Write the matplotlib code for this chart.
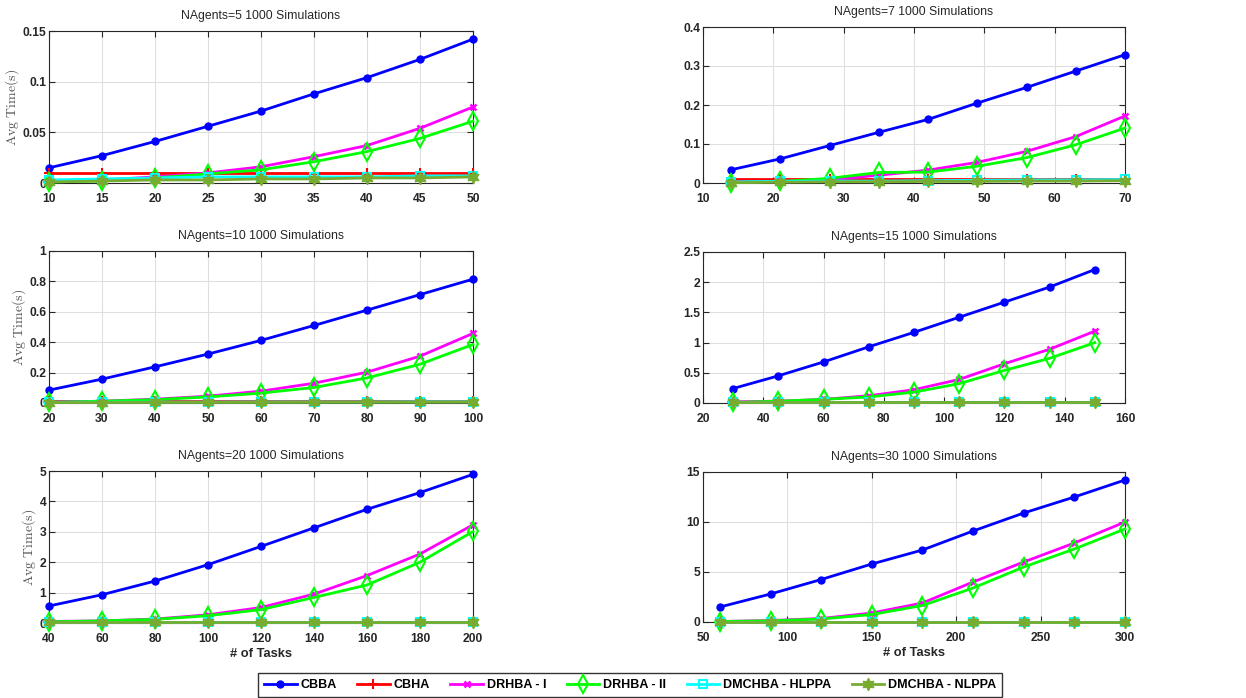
import matplotlib
matplotlib.use("Agg")
import matplotlib.pyplot as plt
from matplotlib import font_manager

plt.rcParams['font.family'] = ['Liberation Sans', 'DejaVu Sans']
plt.rcParams['mathtext.fontset'] = 'cm'

installed = {f.name for f in font_manager.fontManager.ttflist}
legend_family = ['Liberation Sans Narrow', 'Liberation Sans'] if 'Liberation Sans Narrow' in installed else ['Liberation Sans']

series_names = ["CBBA", "CBHA", "DRHBA - I", "DRHBA - II", "DMCHBA - HLPPA", "DMCHBA - NLPPA"]

agents = [5, 7, 10, 15, 20, 30]

tasks = {
    5: [10, 15, 20, 25, 30, 35, 40, 45, 50],
    7: [14, 21, 28, 35, 42, 49, 56, 63, 70],
    10: [20, 30, 40, 50, 60, 70, 80, 90, 100],
    15: [30, 45, 60, 75, 90, 105, 120, 135, 150],
    20: [40, 60, 80, 100, 120, 140, 160, 180, 200],
    30: [60, 90, 120, 150, 180, 210, 240, 270, 300],
}

cbba = {
    5: [0.015, 0.027, 0.041, 0.056, 0.071, 0.088, 0.104, 0.122, 0.142],
    7: [0.034, 0.062, 0.096, 0.130, 0.163, 0.205, 0.245, 0.287, 0.329],
    10: [0.085, 0.157, 0.238, 0.322, 0.412, 0.510, 0.611, 0.713, 0.815],
    15: [0.24, 0.45, 0.68, 0.93, 1.17, 1.42, 1.67, 1.92, 2.21],
    20: [0.56, 0.93, 1.38, 1.92, 2.52, 3.13, 3.74, 4.29, 4.89],
    30: [1.5, 2.8, 4.25, 5.8, 7.2, 9.1, 10.9, 12.5, 14.2],
}
cbha = {
    5: [0.0095, 0.0095, 0.0095, 0.0095, 0.0095, 0.0095, 0.0095, 0.0095, 0.0095],
    7: [0.009, 0.009, 0.009, 0.009, 0.009, 0.009, 0.009, 0.009, 0.009],
    10: [0.010, 0.010, 0.010, 0.010, 0.010, 0.010, 0.010, 0.010, 0.010],
    15: [0.02, 0.02, 0.02, 0.02, 0.02, 0.02, 0.02, 0.02, 0.02],
    20: [0.04, 0.04, 0.04, 0.04, 0.04, 0.04, 0.04, 0.04, 0.04],
    30: [0.04, 0.04, 0.04, 0.04, 0.04, 0.04, 0.04, 0.04, 0.04],
}
drhba1 = {
    5: [0.002, 0.003, 0.006, 0.010, 0.016, 0.026, 0.037, 0.054, 0.075],
    7: [0.002, 0.004, 0.008, 0.020, 0.033, 0.053, 0.081, 0.119, 0.172],
    10: [0.005, 0.012, 0.025, 0.045, 0.078, 0.130, 0.203, 0.308, 0.458],
    15: [0.02, 0.03, 0.06, 0.12, 0.22, 0.39, 0.65, 0.89, 1.19],
    20: [0.05, 0.07, 0.13, 0.27, 0.51, 0.95, 1.56, 2.27, 3.23],
    30: [0.05, 0.15, 0.35, 0.9, 1.9, 4.0, 6.0, 7.9, 10.0],
}
drhba2 = {
    5: [0.001, 0.002, 0.005, 0.009, 0.013, 0.021, 0.031, 0.044, 0.061],
    7: [0.001, 0.004, 0.012, 0.027, 0.028, 0.043, 0.065, 0.098, 0.141],
    10: [0.004, 0.012, 0.022, 0.040, 0.065, 0.102, 0.165, 0.255, 0.385],
    15: [0.01, 0.03, 0.06, 0.10, 0.18, 0.32, 0.54, 0.74, 1.00],
    20: [0.04, 0.07, 0.12, 0.24, 0.44, 0.84, 1.25, 2.00, 3.01],
    30: [0.05, 0.12, 0.30, 0.75, 1.65, 3.4, 5.5, 7.3, 9.3],
}
hlppa = {
    5: [0.003, 0.004, 0.005, 0.006, 0.006, 0.006, 0.006, 0.007, 0.007],
    7: [0.003, 0.004, 0.005, 0.005, 0.006, 0.007, 0.008, 0.008, 0.009],
    10: [0.005, 0.005, 0.006, 0.006, 0.007, 0.007, 0.007, 0.008, 0.008],
    15: [0.02, 0.02, 0.02, 0.02, 0.02, 0.02, 0.02, 0.02, 0.02],
    20: [0.04, 0.04, 0.04, 0.04, 0.04, 0.04, 0.04, 0.04, 0.04],
    30: [0.04, 0.04, 0.04, 0.04, 0.04, 0.04, 0.04, 0.04, 0.04],
}
nlppa = {
    5: [0.001, 0.002, 0.003, 0.003, 0.004, 0.004, 0.005, 0.005, 0.006],
    7: [0.001, 0.002, 0.003, 0.003, 0.004, 0.004, 0.005, 0.005, 0.006],
    10: [0.003, 0.003, 0.004, 0.004, 0.004, 0.005, 0.005, 0.005, 0.006],
    15: [0.01, 0.01, 0.01, 0.01, 0.01, 0.01, 0.01, 0.01, 0.01],
    20: [0.03, 0.03, 0.03, 0.03, 0.03, 0.03, 0.03, 0.03, 0.03],
    30: [0.03, 0.03, 0.03, 0.03, 0.03, 0.03, 0.03, 0.03, 0.03],
}

xlims = {5: (10, 50), 7: (10, 70), 10: (20, 100), 15: (20, 160), 20: (40, 200), 30: (50, 300)}
xticks = {5: [10, 15, 20, 25, 30, 35, 40, 45, 50],
          7: [10, 20, 30, 40, 50, 60, 70],
          10: [20, 30, 40, 50, 60, 70, 80, 90, 100],
          15: [20, 40, 60, 80, 100, 120, 140, 160],
          20: [40, 60, 80, 100, 120, 140, 160, 180, 200],
          30: [50, 100, 150, 200, 250, 300]}
ylims = {5: (0, 0.15), 7: (0, 0.4), 10: (0, 1), 15: (0, 2.5), 20: (0, 5), 30: (0, 15)}
yticks = {5: [0, 0.05, 0.1, 0.15], 7: [0, 0.1, 0.2, 0.3, 0.4],
          10: [0, 0.2, 0.4, 0.6, 0.8, 1], 15: [0, 0.5, 1, 1.5, 2, 2.5],
          20: [0, 1, 2, 3, 4, 5], 30: [0, 5, 10, 15]}
yticklabels = {5: ["0", "0.05", "0.1", "0.15"], 7: ["0", "0.1", "0.2", "0.3", "0.4"],
               10: ["0", "0.2", "0.4", "0.6", "0.8", "1"], 15: ["0", "0.5", "1", "1.5", "2", "2.5"],
               20: ["0", "1", "2", "3", "4", "5"], 30: ["0", "5", "10", "15"]}

W, H = 1246, 698
fig = plt.figure(figsize=(W / 100, H / 100), dpi=100)

# axes rectangles in pixels: left, top, right, bottom
rects = {
    5: (49, 31, 473, 183),
    7: (703, 27, 1125, 183),
    10: (49, 251, 473, 403),
    15: (703, 252, 1125, 403),
    20: (49, 471, 473, 623),
    30: (703, 472, 1125, 622),
}

styles = [
    dict(color='#0000FF', marker='o', ms=5, mfc='#0000FF', mec='#0000FF'),
    dict(color='#FF0000', marker='+', ms=7, mew=1.5),
    dict(color='#FF00FF', marker='x', ms=5, mew=1.8),
    dict(color='#00FF00', marker='d', ms=9, mfc='none', mew=1.5),
    dict(color='#00FFFF', marker='s', ms=6, mfc='none', mew=1.5),
    dict(color='#77AC30', marker=(6, 1, 0), ms=9, mfc='#77AC30', mec='#77AC30'),
]

handles = None
for n in agents:
    l, t, r, b = rects[n]
    ax = fig.add_axes([l / W, 1 - b / H, (r - l) / W, (b - t) / H])
    x = tasks[n]
    data = [cbba[n], cbha[n], drhba1[n], drhba2[n], hlppa[n], nlppa[n]]
    hs = []
    for name, y, st in zip(series_names, data, styles):
        h, = ax.plot(x, y, lw=2, label=name, clip_on=False, zorder=3, **st)
        hs.append(h)
    handles = hs
    ax.set_xlim(*xlims[n])
    ax.set_ylim(*ylims[n])
    ax.set_xticks(xticks[n])
    ax.set_yticks(yticks[n])
    ax.set_yticklabels(yticklabels[n])
    ax.grid(True, color='#DFDFDF', lw=0.8, zorder=0)
    ax.set_axisbelow(True)
    for s in ax.spines.values():
        s.set_color('#262626')
        s.set_linewidth(0.8)
    ax.tick_params(direction='in', length=4, width=0.8, color='#262626',
                   top=True, right=True, labelsize=8.7, labelcolor='#262626')
    ax.tick_params(axis='x', pad=7.5)
    ax.tick_params(axis='y', pad=2)
    for lab in ax.get_xticklabels() + ax.get_yticklabels():
        lab.set_fontweight('bold')
    ax.set_title(f"NAgents={n} 1000 Simulations", fontsize=8.8, color='#262626', pad=8.5)
    if n in (5, 10, 20):
        ax.set_ylabel(r'$\mathrm{Avg\ Time(s)}$', fontsize=10, color='#555555', labelpad=1)
    if n in (20, 30):
        ax.set_xlabel("# of Tasks", fontsize=9.3, fontweight='bold', color='#262626', labelpad=2)

leg = fig.legend(handles, series_names, loc='center', bbox_to_anchor=(630 / W, 1 - 685 / H),
                 ncol=6, frameon=True, fancybox=False, edgecolor='black',
                 prop=dict(family=legend_family, weight='bold', size=9), handlelength=2.6,
                 columnspacing=1.65, handletextpad=0.3, borderpad=0.45)
leg.get_frame().set_linewidth(1.0)

fig.savefig("out.png", dpi=100)
